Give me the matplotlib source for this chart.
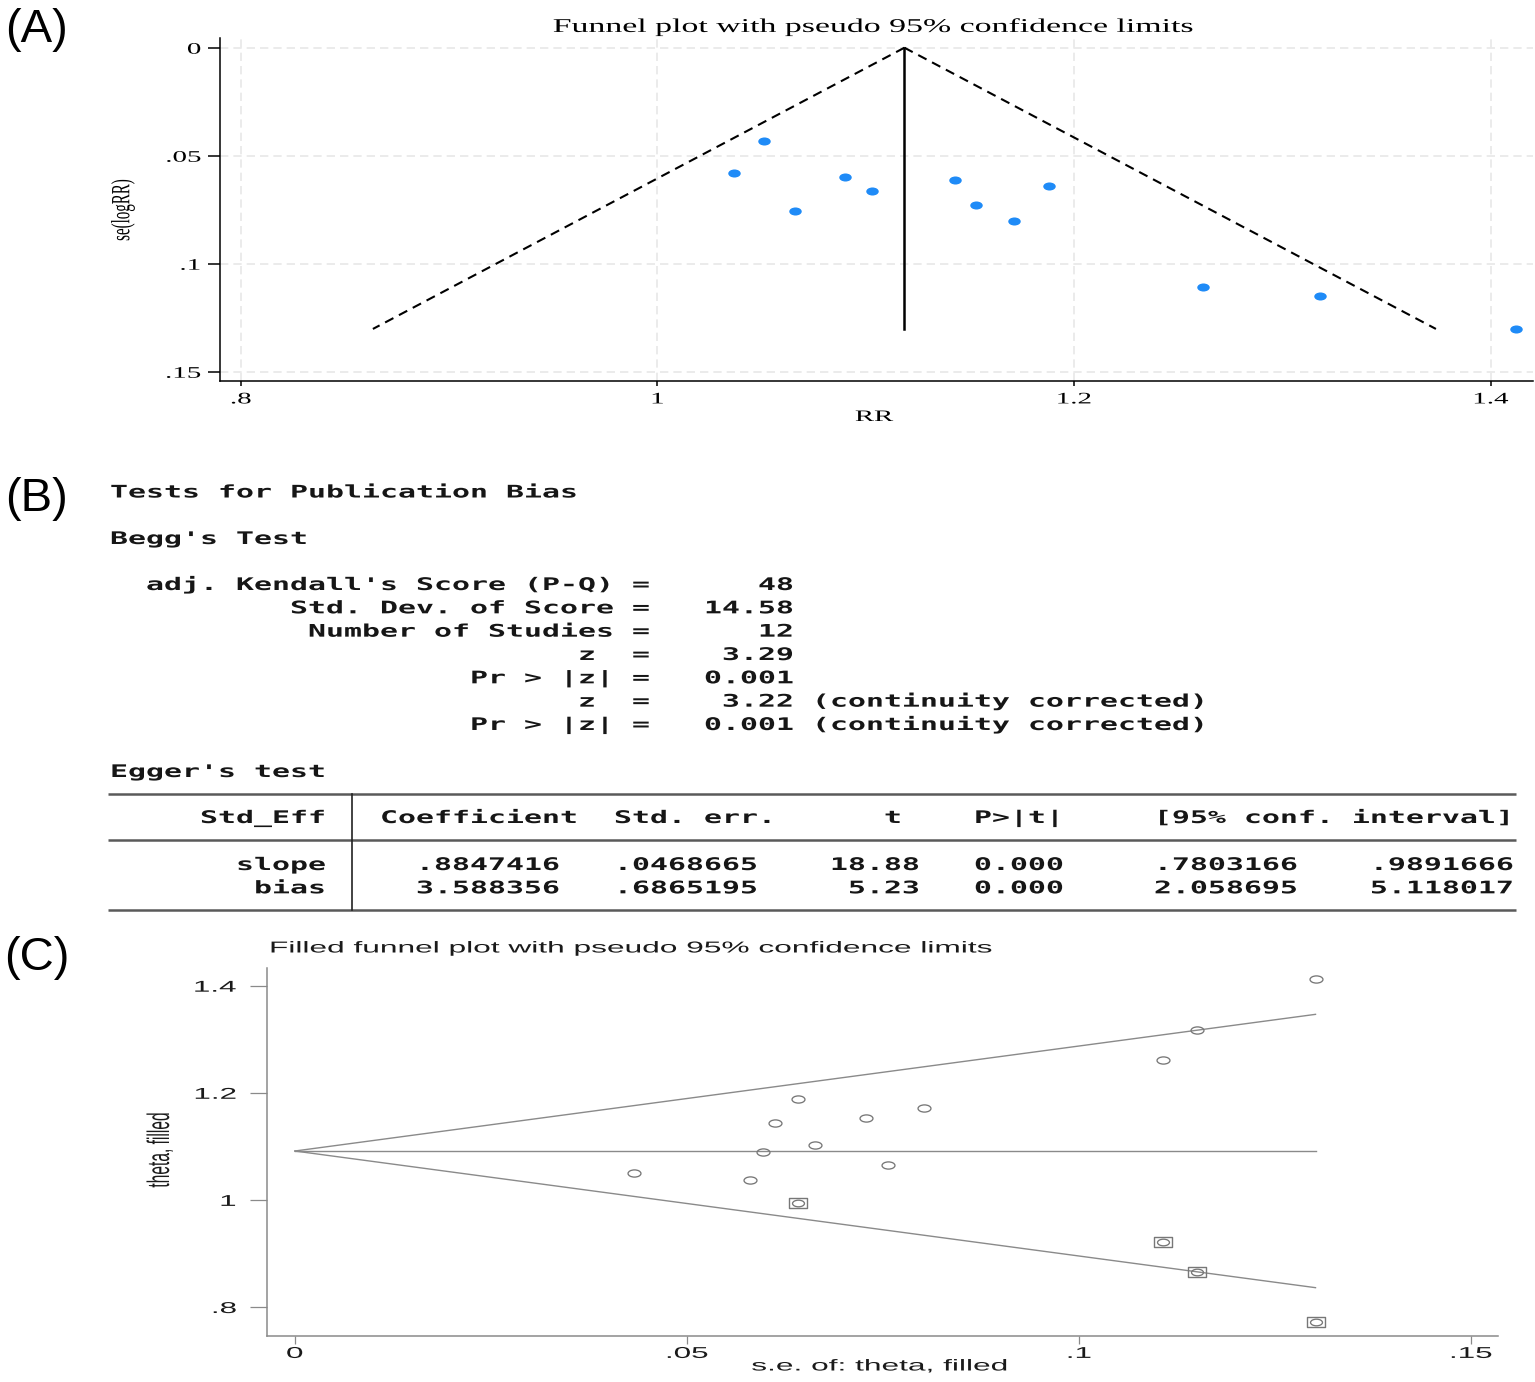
import numpy as np
import matplotlib
matplotlib.use('Agg')
import matplotlib.pyplot as plt
from matplotlib import patheffects
from matplotlib.transforms import Affine2D
from matplotlib.path import Path

###############################################################################
# Dados
###############################################################################
rr = [1.037, 1.051, 1.066, 1.090, 1.103, 1.143, 1.153, 1.171, 1.188, 1.262, 1.318, 1.412]
se_rr = [0.0581, 0.0433, 0.0757, 0.0597, 0.0663, 0.0612, 0.0728, 0.0802, 0.0642, 0.1108, 0.1151, 0.1302]
rr_fixo = 1.1186          # vértice do funil em (A)
theta_combinado = 1.0913  # estimativa combinada após trim-and-fill (C)
z95 = 1.96

theta_preenchido = [0.994, 0.921, 0.865, 0.772]
se_preenchido = [0.0642, 0.1108, 0.1151, 0.1302]

ticks_rr, rotulos_rr = [.8, 1, 1.2, 1.4], ['.8', '1', '1.2', '1.4']
ticks_se, rotulos_se = [0, .05, .1, .15], ['0', '.05', '.1', '.15']
ticks_theta, rotulos_theta = [.8, 1, 1.2, 1.4], ['.8', '1', '1.2', '1.4']

begg_rotulos = ["adj. Kendall's Score (P-Q)", 'Std. Dev. of Score', 'Number of Studies',
                'z ', 'Pr > |z|', 'z ', 'Pr > |z|']
begg_valores = ['48', '14.58', '12', '3.29', '0.001', '3.22', '0.001']
begg_notas = ['', '', '', '', '', ' (continuity corrected)', ' (continuity corrected)']

egger_termos = ['slope', 'bias']
egger_coef = ['.8847416', '3.588356']
egger_ep = ['.0468665', '.6865195']
egger_t = ['18.88', '5.23']
egger_p = ['0.000', '0.000']
egger_li = ['.7803166', '2.058695']
egger_ls = ['.9891666', '5.118017']

###############################################################################
# Auxiliares
###############################################################################
W, H = 1535, 1382


def px(x, y):
    return x / W, 1 - y / H


def caixa(x0, y0, x1, y1):
    return [x0 / W, 1 - y1 / H, (x1 - x0) / W, (y1 - y0) / H]


class Estica(patheffects.AbstractPathEffect):
    # a figura original está esticada na horizontal: alarga o texto em volta da âncora
    def __init__(self, texto, sx):
        super().__init__()
        self.texto, self.sx = texto, sx

    def draw_path(self, renderer, gc, tpath, affine, rgbFace=None):
        x0, _ = self.texto.get_transform().transform(self.texto.get_unitless_position())
        t = affine + Affine2D().translate(-x0, 0).scale(self.sx, 1).translate(x0, 0)
        renderer.draw_path(gc, tpath, t, rgbFace)


def estica(t, sx):
    t.set_path_effects([Estica(t, sx)])
    return t


def elipse(r):
    return Path.unit_circle().transformed(Affine2D().scale(r, 1))


retangulo = Path([(-1.8, -1), (1.8, -1), (1.8, 1), (-1.8, 1), (-1.8, -1)], closed=True)

fig = plt.figure(figsize=(W / 100, H / 100), dpi=100)

###############################################################################
# (A) funnel plot
###############################################################################
axA = fig.add_axes(caixa(220, 38, 1533, 381))
axA.set_xlim(0.790, 1.4204)
axA.set_ylim(0.1543, -0.0045)
for s in ['top', 'right']:
    axA.spines[s].set_visible(False)
for s in ['left', 'bottom']:
    axA.spines[s].set_linewidth(1.1)
axA.set_xticks(ticks_rr, rotulos_rr, fontfamily='Liberation Serif', fontsize=11.6)
axA.set_yticks(ticks_se, rotulos_se, fontfamily='Liberation Serif', fontsize=11.6)
axA.tick_params(axis='y', length=8.5, width=1.1, pad=5)
axA.tick_params(axis='x', length=3.5, width=1.1, pad=4)
axA.grid(True, color='#e8e8e8', lw=1.2, ls=(0, (5, 3)))
axA.set_axisbelow(True)
for t in axA.get_xticklabels() + axA.get_yticklabels():
    estica(t, 1.8)

se_linha = np.array([0, max(se_rr)])
axA.plot(rr_fixo - z95 * se_linha, se_linha, color='k', ls=(0, (4.5, 3)), lw=1.5)
axA.plot(rr_fixo + z95 * se_linha, se_linha, color='k', ls=(0, (4.5, 3)), lw=1.5)
axA.plot([rr_fixo, rr_fixo], se_linha, color='k', lw=1.8)
axA.plot(rr, se_rr, ls='none', marker=elipse(1.55), ms=9, color='#1f8bf7', mec='none')

estica(fig.text(*px(874.5, 27), 'Funnel plot with pseudo 95% confidence limits',
                ha='center', va='center', fontfamily='Liberation Serif', fontsize=14), 1.74)
estica(fig.text(*px(874, 417), 'RR', ha='center', va='center',
                fontfamily='Liberation Serif', fontsize=11.5), 1.8)
estica(fig.text(*px(123, 210), 'se(logRR)', ha='center', va='center', rotation=90,
                fontfamily='Liberation Serif', fontsize=10.8), 1.75)

###############################################################################
# (B) testes de viés de publicação (texto da saída do Stata)
###############################################################################
axB = fig.add_axes(caixa(0, 460, W, 930))
axB.set_xlim(0, W)
axB.set_ylim(930, 460)
axB.axis('off')

mono = dict(fontfamily='DejaVu Sans Mono', fontsize=12.5, fontweight='bold', color='#161616',
            ha='left', va='baseline')
sx_mono = 1.722

linhas = [(497.5, 'Tests for Publication Bias'), (544, "Begg's Test")]
for i, (rot, val, nota) in enumerate(zip(begg_rotulos, begg_valores, begg_notas)):
    linhas.append((590 + 23.33 * i, f'{rot:>28} ={val:>8}{nota}'))
linhas.append((777, "Egger's test"))
linhas.append((823, f"{'Std_Eff':>12}   Coefficient  Std. err.      t    P>|t|     [95% conf. interval]"))
for i, nome in enumerate(egger_termos):
    linhas.append((870 + 23.33 * i,
                   f'{nome:>12}   {egger_coef[i]:>10}{egger_ep[i]:>11}{egger_t[i]:>9}'
                   f'{egger_p[i]:>8}{egger_li[i]:>13}{egger_ls[i]:>12}'))
for y, s in linhas:
    estica(axB.text(110, y, s, **mono), sx_mono)

cor_tab = '#5a5a5a'
for y in [794.5, 840.5, 910.5]:
    axB.plot([108, 1516], [y, y], color=cor_tab, lw=1.8, solid_capstyle='butt')
axB.plot([352, 352], [794.5, 910.5], color='#222222', lw=1.2)

###############################################################################
# (C) filled funnel plot
###############################################################################
cinza = '#8a8a8a'
axC = fig.add_axes(caixa(266.5, 967.7, 1498, 1335.5))
axC.set_xlim(-0.00362, 0.15348)
axC.set_ylim(0.7468, 1.4336)
for s in ['top', 'right']:
    axC.spines[s].set_visible(False)
for s in ['left', 'bottom']:
    axC.spines[s].set_linewidth(1.1)
    axC.spines[s].set_color(cinza)
axC.set_xticks(ticks_se, rotulos_se, fontfamily='Liberation Sans', fontsize=11.3, color='#1a1a1a')
axC.set_yticks(ticks_theta, rotulos_theta, fontfamily='Liberation Sans', fontsize=11.3, color='#1a1a1a')
axC.tick_params(axis='y', length=12, width=0.9, pad=9.5, color=cinza)
axC.tick_params(axis='x', length=5.5, width=0.9, pad=2, color=cinza)
for t in axC.get_xticklabels() + axC.get_yticklabels():
    estica(t, 2.0)

se_c = np.array([0, max(se_rr)])
axC.plot(se_c, theta_combinado + z95 * se_c, color=cinza, lw=1)
axC.plot(se_c, theta_combinado - z95 * se_c, color=cinza, lw=1)
axC.plot(se_c, [theta_combinado, theta_combinado], color=cinza, lw=1)
axC.plot(se_rr, rr, ls='none', marker=elipse(1.8), ms=9.3, mfc='none', mec='#777777', mew=0.95)
axC.plot(se_preenchido, theta_preenchido, ls='none', marker=elipse(1.8), ms=8.6,
         mfc='none', mec='#777777', mew=0.95)
axC.plot(se_preenchido, theta_preenchido, ls='none', marker=retangulo, ms=12.5,
         mfc='none', mec='#777777', mew=1.0)

estica(fig.text(*px(269, 948), 'Filled funnel plot with pseudo 95% confidence limits',
                ha='left', va='center', fontfamily='Liberation Sans', fontsize=11.4,
                color='#1a1a1a'), 2.0)
estica(fig.text(*px(880, 1366), 's.e. of: theta, filled', ha='center', va='center',
                fontfamily='Liberation Sans', fontsize=11.4, color='#1a1a1a'), 2.0)
estica(fig.text(*px(160, 1150), 'theta, filled', ha='center', va='center', rotation=90,
                fontfamily='Liberation Sans', fontsize=11.2, color='#1a1a1a'), 2.0)

###############################################################################
# rótulos dos painéis
###############################################################################
for y, rot in [(30, '(A)'), (499, '(B)'), (958, '(C)')]:
    fig.text(*px(37, y), rot, ha='center', va='center', fontfamily='Liberation Sans', fontsize=34)

fig.savefig('out.png', dpi=100)
